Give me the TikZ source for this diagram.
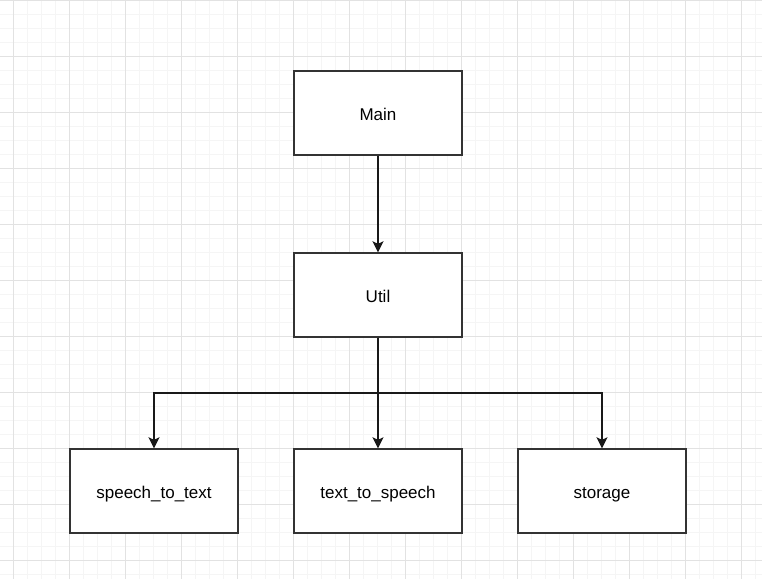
\documentclass[tikz,border=0pt]{standalone}
\usepackage{fontspec}
\setmainfont{Liberation Sans}
\usetikzlibrary{arrows.meta}
\definecolor{gridmajor}{HTML}{E2E2E2}
\definecolor{gridminor}{HTML}{F5F5F5}
\definecolor{boxline}{HTML}{333333}
\begin{document}
\begin{tikzpicture}[x=1pt,y=-1pt,
  module/.style={draw=boxline,line width=1.4pt,fill=white,minimum width=168pt,minimum height=84pt,inner sep=0pt,text height=14pt,text depth=0pt,font=\fontsize{17}{20}\selectfont},
  link/.style={draw=black!90,line width=1.4pt,-{Stealth[length=11pt,width=11pt,inset=2.5pt]}}]
  % canvas and background grid
  \useasboundingbox (0,0) rectangle (762,579);
  \fill[white] (0,0) rectangle (762,579);
  \foreach \x in {-1,13,...,762} \draw[gridminor,line width=0.8pt] (\x,0) -- (\x,579);
  \foreach \y in {0,14,...,579} \draw[gridminor,line width=0.8pt] (0,\y) -- (762,\y);
  \foreach \x in {13,69,...,762} \draw[gridmajor,line width=0.8pt] (\x,0) -- (\x,579);
  \foreach \y in {0,56,...,579} \draw[gridmajor,line width=0.8pt] (0,\y) -- (762,\y);
  % modules
  \node[module] (main) at (378,113) {Main};
  \node[module] (util) at (378,295) {Util};
  \node[module] (stt) at (154,491) {speech\_to\_text};
  \node[module] (tts) at (378,491) {text\_to\_speech};
  \node[module] (store) at (602,491) {storage};
  % connectors
  \coordinate (split) at (378,393);
  \draw[link] (main) -- (util);
  \draw[link] (util) -- (tts);
  \draw[link] (util.south) -- (split) -| (stt.north);
  \draw[link] (util.south) -- (split) -| (store.north);
\end{tikzpicture}
\end{document}
